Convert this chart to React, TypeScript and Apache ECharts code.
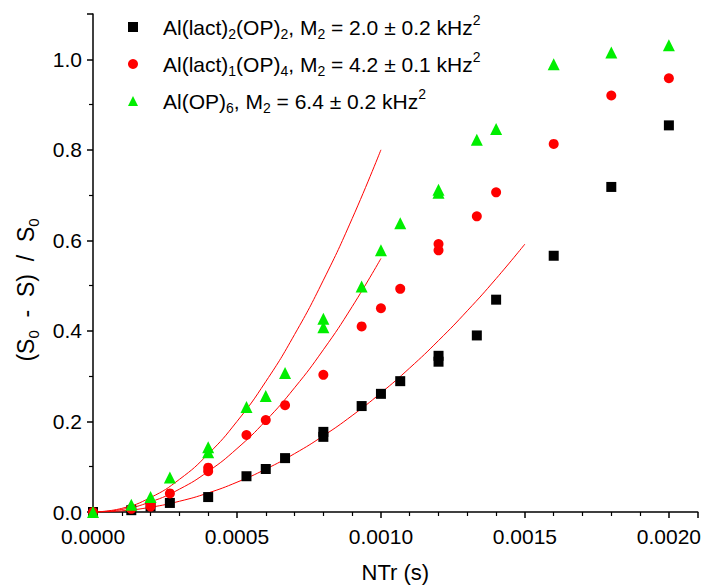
import React, { useEffect, useRef } from "react";
import * as echarts from "echarts";

// NTr values (s)
const xBlack = [0, 0.000133, 0.0002, 0.000267, 0.0004, 0.000533, 0.0006, 0.000667, 0.0008, 0.0008, 0.000933, 0.001, 0.001067, 0.0012, 0.0012, 0.001333, 0.0014, 0.0016, 0.0018, 0.002];
const yBlack = [0, 0.004, 0.012, 0.02, 0.033, 0.079, 0.095, 0.119, 0.177, 0.166, 0.234, 0.261, 0.289, 0.345, 0.332, 0.39, 0.469, 0.566, 0.718, 0.854];

const xRed = [0, 0.000133, 0.0002, 0.0002, 0.000267, 0.0004, 0.0004, 0.000533, 0.0006, 0.000667, 0.0008, 0.000933, 0.001, 0.001067, 0.0012, 0.0012, 0.001333, 0.0014, 0.0016, 0.0018, 0.002];
const yRed = [0, 0.007, 0.012, 0.018, 0.041, 0.09, 0.098, 0.17, 0.203, 0.236, 0.303, 0.41, 0.45, 0.493, 0.592, 0.578, 0.653, 0.706, 0.813, 0.92, 0.958];

const xGreen = [0, 0.000133, 0.0002, 0.000267, 0.0004, 0.0004, 0.000533, 0.0006, 0.000667, 0.0008, 0.0008, 0.000933, 0.001, 0.001067, 0.0012, 0.0012, 0.001333, 0.0014, 0.0016, 0.0018, 0.002];
const yGreen = [0, 0.016, 0.033, 0.076, 0.143, 0.132, 0.232, 0.256, 0.307, 0.427, 0.408, 0.498, 0.578, 0.638, 0.712, 0.705, 0.822, 0.846, 0.989, 1.015, 1.031];

// fitted curves
const xFitShort = [0, 0.0001, 0.0002, 0.0003, 0.0004, 0.0005, 0.0006, 0.0007, 0.0008, 0.0009, 0.001];
const yFitGreen = [0, 0.008, 0.032, 0.072, 0.128, 0.2, 0.288, 0.392, 0.512, 0.648, 0.8];
const yFitRed = [0, 0.0056, 0.0224, 0.0504, 0.0896, 0.14, 0.2016, 0.2744, 0.3584, 0.4536, 0.56];
const xFitLong = [0, 0.0001, 0.0002, 0.0003, 0.0004, 0.0005, 0.0006, 0.0007, 0.0008, 0.0009, 0.001, 0.0011, 0.0012, 0.0013, 0.0014, 0.0015];
const yFitBlack = [0, 0.0026, 0.0105, 0.0237, 0.0421, 0.0658, 0.0947, 0.1289, 0.1683, 0.213, 0.263, 0.3182, 0.3787, 0.4445, 0.5155, 0.5918];

const legendNames = ["black", "red", "green"];
const legendTexts = [
  "{g|}Al(lact){sub|2}(OP){sub|2}, M{sub|2} = 2.0 ± 0.2 kHz{sup|2}",
  "{g|}Al(lact){sub|1}(OP){sub|4}, M{sub|2} = 4.2 ± 0.1 kHz{sup|2}",
  "{g|}Al(OP){sub|6}, M{sub|2} = 6.4 ± 0.2 kHz{sup|2}",
];

const FONT = "'Liberation Sans', Arial, sans-serif";

const zip = (xs: number[], ys: number[]) => xs.map((x, i) => [x, ys[i]]);

export default function App() {
  const ref = useRef<HTMLDivElement>(null);
  useEffect(() => {
    if (!ref.current) return;
    const chart = echarts.init(ref.current, null, { renderer: "svg" });
    const richBase = {
      g: { width: 20 },
      sub: { fontSize: 14, fontFamily: FONT, color: "#000", verticalAlign: "bottom", lineHeight: 28 },
      sup: { fontSize: 14, fontFamily: FONT, color: "#000", verticalAlign: "top", lineHeight: 28 },
    };
    const fitLine = (data: number[][]) => ({
      type: "line",
      data,
      smooth: true,
      showSymbol: false,
      symbol: "none",
      lineStyle: { color: "#ff0000", width: 1 },
      z: 1,
      silent: true,
    });
    chart.setOption({
      animation: false,
      backgroundColor: "#fff",
      grid: { left: 93, right: 6, top: 14, bottom: 70, containLabel: false },
      legend: {
        data: legendNames,
        orient: "vertical",
        left: 123,
        top: 8,
        itemWidth: 10,
        itemHeight: 10,
        itemGap: 9,
        formatter: (name: string) => legendTexts[legendNames.indexOf(name)],
        textStyle: {
          fontSize: 21,
          fontFamily: FONT,
          color: "#000",
          lineHeight: 28,
          rich: richBase,
        },
      },
      xAxis: {
        type: "value",
        min: 0,
        max: 0.0021,
        interval: 0.0005,
        name: "NTr (s)",
        nameLocation: "middle",
        nameGap: 49,
        nameTextStyle: { fontSize: 22, fontFamily: FONT, color: "#000" },
        axisLine: { show: true, onZero: false, lineStyle: { color: "#000", width: 1.5 } },
        axisTick: { show: true, inside: false, length: 6, lineStyle: { color: "#000", width: 1.5 } },
        minorTick: { show: true, splitNumber: 5, length: 4, lineStyle: { color: "#000", width: 1.2 } },
        splitLine: { show: false },
        axisLabel: {
          margin: 14,
          fontSize: 21,
          fontFamily: FONT,
          color: "#000",
          showMaxLabel: false,
          formatter: (v: number) => v.toFixed(4),
        },
      },
      yAxis: {
        type: "value",
        min: 0,
        max: 1.1,
        interval: 0.2,
        axisLine: { show: true, onZero: false, lineStyle: { color: "#000", width: 1.5 } },
        axisTick: { show: true, inside: false, length: 6, lineStyle: { color: "#000", width: 1.5 } },
        minorTick: { show: true, splitNumber: 2, length: 4, lineStyle: { color: "#000", width: 1.2 } },
        splitLine: { show: false },
        axisLabel: {
          margin: 11,
          fontSize: 21,
          fontFamily: FONT,
          color: "#000",
          showMaxLabel: false,
          formatter: (v: number) => v.toFixed(1),
        },
      },
      graphic: [
        {
          type: "text",
          x: 26,
          y: 290,
          rotation: Math.PI / 2,
          style: {
            text: "(S{sub|0}  -  S)  /  S{sub|0}",
            fontSize: 23,
            fontFamily: FONT,
            fill: "#000",
            align: "center",
            verticalAlign: "middle",
            lineHeight: 30,
            rich: {
              sub: { fontSize: 15, fontFamily: FONT, fill: "#000", verticalAlign: "bottom", lineHeight: 30 },
            },
          },
        },
      ],
      series: [
        fitLine(zip(xFitLong, yFitBlack)),
        fitLine(zip(xFitShort, yFitRed)),
        fitLine(zip(xFitShort, yFitGreen)),
        {
          name: "black",
          type: "scatter",
          data: zip(xBlack, yBlack),
          symbol: "rect",
          symbolSize: 10,
          itemStyle: { color: "#000000", opacity: 1 },
          z: 3,
        },
        {
          name: "red",
          type: "scatter",
          data: zip(xRed, yRed),
          symbol: "circle",
          symbolSize: 10,
          itemStyle: { color: "#ff0000", opacity: 1 },
          z: 4,
        },
        {
          name: "green",
          type: "scatter",
          data: zip(xGreen, yGreen),
          symbol: "triangle",
          symbolSize: 12,
          itemStyle: { color: "#00ee00", opacity: 1 },
          z: 5,
        },
      ],
    });
    return () => chart.dispose();
  }, []);
  return <div ref={ref} style={{ width: 704, height: 588, position: "absolute", left: 0, top: 0 }} />;
}
